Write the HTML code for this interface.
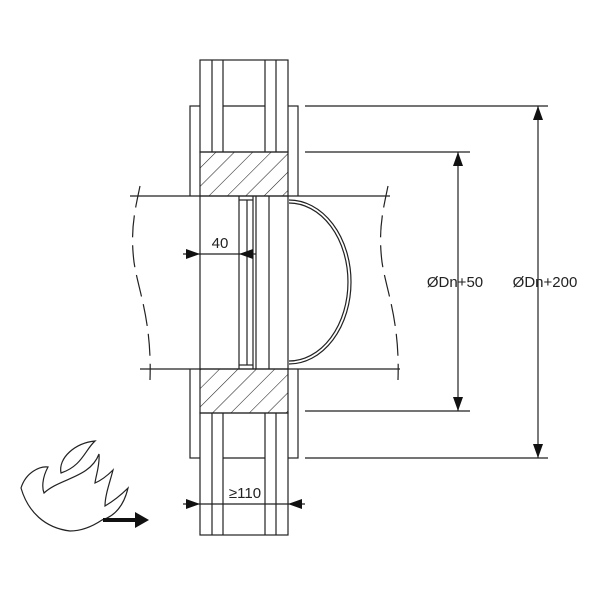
<!DOCTYPE html>
<html><head><style>body{margin:0;background:#fff}</style></head><body>
<svg width="600" height="600" xmlns="http://www.w3.org/2000/svg" font-family="Liberation Sans, sans-serif">
<defs>
<pattern id="h" patternUnits="userSpaceOnUse" width="13" height="13" patternTransform="rotate(45)">
<line x1="0" y1="0" x2="0" y2="13" stroke="#222" stroke-width="1.1"/>
</pattern>
</defs>
<g fill="none" stroke="#222" stroke-width="1.2">
<!-- collar -->
<rect x="190" y="106" width="108" height="352" fill="#fff"/>
<!-- pipe band hides collar -->
<rect x="130" y="196" width="270" height="173" fill="#fff" stroke="none"/>
<!-- wall top -->
<rect x="200" y="60" width="88" height="92" fill="#fff"/>
<line x1="212" y1="60" x2="212" y2="152"/><line x1="223" y1="60" x2="223" y2="152"/>
<line x1="265" y1="60" x2="265" y2="152"/><line x1="276" y1="60" x2="276" y2="152"/>
<line x1="223" y1="106" x2="265" y2="106"/>
<!-- wall bottom -->
<rect x="200" y="413" width="88" height="122" fill="#fff"/>
<line x1="212" y1="413" x2="212" y2="535"/><line x1="223" y1="413" x2="223" y2="535"/>
<line x1="265" y1="413" x2="265" y2="535"/><line x1="276" y1="413" x2="276" y2="535"/>
<line x1="223" y1="458" x2="265" y2="458"/>
<!-- hatch blocks -->
<rect x="200" y="152" width="88" height="44" fill="url(#h)"/>
<rect x="200" y="369" width="88" height="44" fill="url(#h)"/>
<!-- pipe -->
<line x1="130" y1="196" x2="390" y2="196"/>
<line x1="140" y1="369" x2="400" y2="369"/>
<line x1="200" y1="196" x2="200" y2="369"/>
<line x1="288" y1="196" x2="288" y2="369"/>
<!-- damper -->
<line x1="239" y1="196" x2="239" y2="369"/><line x1="247" y1="200" x2="247" y2="365"/>
<line x1="253" y1="196" x2="253" y2="369"/><line x1="256" y1="196" x2="256" y2="369"/>
<line x1="269" y1="196" x2="269" y2="369"/>
<line x1="239" y1="200" x2="253" y2="200"/><line x1="239" y1="365" x2="253" y2="365"/>
<!-- dome -->
<path d="M289 200 A62 82 0 0 1 289 364"/>
<path d="M289 203 A59 79 0 0 1 289 361"/>
<!-- break lines -->
<path d="M140 186 C135 210 130 230 134 262 C138 290 152 320 150 380" stroke-dasharray="22 8"/>
<path d="M388 186 C383 210 378 230 382 262 C386 290 400 320 398 380" stroke-dasharray="22 8"/>
<!-- dims -->
<line x1="305" y1="106" x2="548" y2="106"/><line x1="305" y1="458" x2="548" y2="458"/>
<line x1="305" y1="152" x2="470" y2="152"/><line x1="305" y1="411" x2="470" y2="411"/>
<line x1="458" y1="152" x2="458" y2="411"/><line x1="538" y1="106" x2="538" y2="458"/>
<line x1="183" y1="254" x2="256" y2="254"/>
<line x1="183" y1="504" x2="305" y2="504"/>
<!-- flame -->
<path d="M21 488 C26 472 40 466 48 467 C42 478 42 488 44 493 C60 478 90 478 99 454 C100 465 96 475 95 483 C102 480 108 475 113 470 C110 482 105 495 105 506 C115 500 122 494 128 488 C124 505 115 516 102 520 C90 528 80 531 70 531 C45 528 28 512 21 488Z"/>
<path d="M61 473 C58 458 75 443 95 441 C85 450 82 466 61 473Z"/>
</g>
<g fill="#111">
<path d="M458 152 l-5 14 h10z"/><path d="M458 411 l-5 -14 h10z"/>
<path d="M538 106 l-5 14 h10z"/><path d="M538 458 l-5 -14 h10z"/>
<path d="M200 254 l-14 -5 v10z"/><path d="M239 254 l14 -5 v10z"/>
<path d="M200 504 l-14 -5 v10z"/><path d="M288 504 l14 -5 v10z"/>
<path d="M103 518 h32 v-6 l14 8 l-14 8 v-6 h-32z"/>
</g>
<g font-size="15" fill="#222" text-anchor="middle">
<text x="220" y="248">40</text>
<text x="245" y="498">≥110</text>
<text x="455" y="287">ØDn+50</text>
<text x="545" y="287">ØDn+200</text>
</g>
</svg>
</body></html>
